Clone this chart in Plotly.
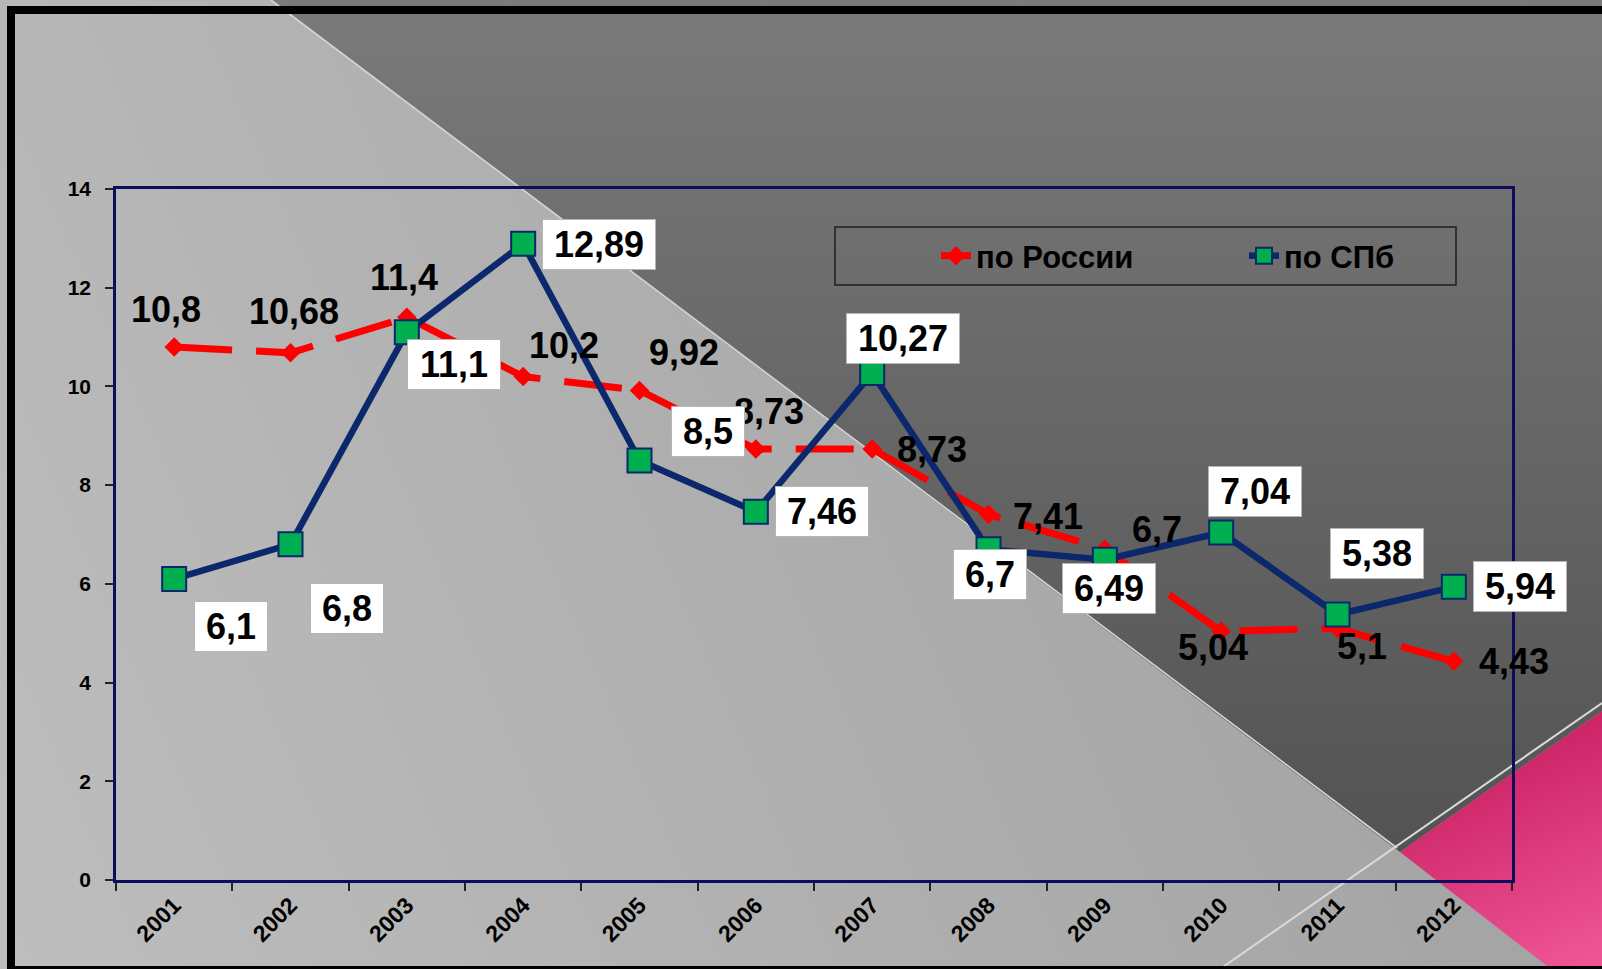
import base64
import plotly.graph_objects as go

# ---- data -------------------------------------------------------------
years = ["2001", "2002", "2003", "2004", "2005", "2006",
         "2007", "2008", "2009", "2010", "2011", "2012"]
russia = [10.8, 10.68, 11.4, 10.2, 9.92, 8.73, 8.73, 7.41, 6.7, 5.04, 5.1, 4.43]
spb = [6.1, 6.8, 11.1, 12.89, 8.5, 7.46, 10.27, 6.7, 6.49, 7.04, 5.38, 5.94]
name_russia = "по России"
name_spb = "по СПб"

# label offsets in px (dx, dy up) for each point
russia_off = [(-8, 37), (3, 41), (-3, 40), (41, 31), (44, 38), (13, 38),
              (60, 0), (59, -2), (52, 20), (-8, -16), (24, -18), (60, 0)]
spb_off = [(57, -48), (56, -64), (47, -32), (76, -1), (68, 29), (66, 0),
           (31, 35), (1, -25), (4, -29), (34, 41), (39, 61), (66, 0)]

# ---- geometry ---------------------------------------------------------
W, H = 1602, 969
ML, MR, MT, MB = 116, 90, 189, 89
PW, PH = W - ML - MR, H - MT - MB


def px_x(px):
    return (px - ML) / PW


def px_y(py):
    return (H - MB - py) / PH


def fmt(v):
    return f"{v:g}".replace(".", ",")


FONT = "Arial, Liberation Sans, sans-serif"
NAVY = "#0d0d5c"
LABEL_SIZE = 36

# ---- background artwork ----------------------------------------------
svg = f"""<svg xmlns="http://www.w3.org/2000/svg" width="{W}" height="{H}" viewBox="0 0 {W} {H}" preserveAspectRatio="none">
<defs>
<linearGradient id="lg" gradientUnits="userSpaceOnUse" x1="0" y1="900" x2="1400" y2="300">
<stop offset="0" stop-color="#bdbdbd"/><stop offset="1" stop-color="#a2a2a2"/></linearGradient>
<linearGradient id="dg" gradientUnits="userSpaceOnUse" x1="0" y1="0" x2="0" y2="850">
<stop offset="0" stop-color="#7a7a7a"/><stop offset="1" stop-color="#535353"/></linearGradient>
<linearGradient id="pg" gradientUnits="userSpaceOnUse" x1="1450" y1="720" x2="1560" y2="969">
<stop offset="0" stop-color="#c4185c"/><stop offset="1" stop-color="#ee5494"/></linearGradient>
</defs>
<rect x="0" y="0" width="{W}" height="{H}" fill="url(#lg)"/>
<polygon points="271,0 {W},0 {W},711 1400,852" fill="url(#dg)"/>
<polygon points="1400,852 {W},711 {W},{H} 1551,{H}" fill="url(#pg)"/>
<line x1="271" y1="0" x2="1397" y2="848" stroke="#d6d6d6" stroke-width="1.6"/>
<line x1="1220" y1="{H}" x2="{W}" y2="703" stroke="#dadada" stroke-width="2"/>
<rect x="7" y="6" width="{W - 7}" height="8" fill="#000"/>
<rect x="7" y="6" width="8" height="{H - 6}" fill="#000"/>
<rect x="7" y="966" width="{W - 7}" height="3" fill="#000"/>
</svg>"""
bg_src = "data:image/svg+xml;base64," + base64.b64encode(svg.encode("utf-8")).decode()

fig = go.Figure()

fig.add_trace(go.Scatter(
    x=years, y=russia, name=name_russia, mode="lines+markers",
    line=dict(color="#ff0000", width=7, dash="58px,24px"),
    marker=dict(symbol="diamond", size=15, color="#ff0000"),
))
fig.add_trace(go.Scatter(
    x=years, y=spb, name=name_spb, mode="lines+markers",
    line=dict(color="#0b286c", width=6.5),
    marker=dict(symbol="square", size=24, color="#00b050",
                line=dict(color="#0b286c", width=2)),
))

# annotations on a category axis take the category's serial index
annotations = []
for i, (v, (dx, dy)) in enumerate(zip(russia, russia_off)):
    annotations.append(dict(
        x=i, y=v, xref="x", yref="y", text=fmt(v), showarrow=False,
        xshift=dx, yshift=dy, xanchor="center", yanchor="middle",
        font=dict(family=FONT, size=LABEL_SIZE, color="#000", weight="bold"),
    ))
for i, (v, (dx, dy)) in enumerate(zip(spb, spb_off)):
    t = fmt(v)
    tw = sum(0.278 if ch == "," else 0.556 for ch in t) * LABEL_SIZE
    annotations.append(dict(
        x=i, y=v, xref="x", yref="y", text=t, showarrow=False,
        xshift=dx, yshift=dy, xanchor="center", yanchor="middle",
        width=tw + 14, height=41,
        bgcolor="#ffffff", bordercolor="#b5b5b5", borderwidth=1, borderpad=4,
        font=dict(family=FONT, size=LABEL_SIZE, color="#000", weight="bold"),
    ))

# legend frame
shapes = [dict(
    type="rect", xref="paper", yref="paper",
    x0=px_x(835), x1=px_x(1456), y0=px_y(285), y1=px_y(227),
    line=dict(color="#1e1e1e", width=1.5), fillcolor="rgba(0,0,0,0)",
)]

fig.update_layout(
    width=W, height=H,
    margin=dict(l=ML, r=MR, t=MT, b=MB),
    paper_bgcolor="#a8a8a8",
    plot_bgcolor="rgba(0,0,0,0)",
    images=[dict(source=bg_src, xref="paper", yref="paper",
                 x=px_x(0), y=px_y(0), sizex=W / PW, sizey=H / PH,
                 xanchor="left", yanchor="top", sizing="stretch",
                 layer="below")],
    showlegend=True,
    legend=dict(
        orientation="h", x=px_x(936), y=px_y(256), xanchor="left",
        yanchor="middle", bgcolor="rgba(0,0,0,0)", borderwidth=0,
        font=dict(family=FONT, size=31, color="#000", weight="bold"),
        entrywidth=263, traceorder="normal",
    ),
    annotations=annotations,
    shapes=shapes,
    xaxis=dict(
        type="category", range=[-0.5, 11.5], tickangle=-45,
        ticks="outside", tickson="boundaries", ticklen=8, tickwidth=1.5,
        tickcolor="#222", showline=True, linecolor=NAVY, linewidth=2.5,
        mirror=True, showgrid=False, zeroline=False,
        tickfont=dict(family=FONT, size=23, color="#000", weight="bold"),
    ),
    yaxis=dict(
        range=[0, 14], dtick=2, ticks="outside", ticklen=8, tickwidth=1.5,
        tickcolor="#222", showline=True, linecolor=NAVY, linewidth=2.5,
        mirror=True, showgrid=False, zeroline=False, ticklabelstandoff=10,
        tickfont=dict(family=FONT, size=21, color="#000", weight="bold"),
    ),
)

fig.write_html("out.html")
